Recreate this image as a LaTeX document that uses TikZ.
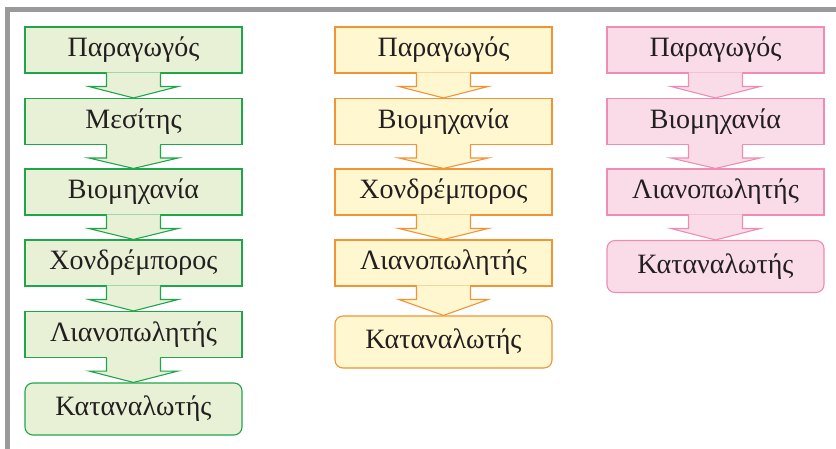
\documentclass[tikz,border=0pt]{standalone}
\usepackage{fontspec}
\setmainfont{Liberation Serif}
\usetikzlibrary{calc}
\definecolor{frameg}{HTML}{9A9A9C}
\definecolor{txt}{HTML}{231F20}
\definecolor{gline}{HTML}{1FA64C}
\definecolor{gfill}{HTML}{E8F1D5}
\definecolor{oline}{HTML}{F29335}
\definecolor{ofill}{HTML}{FFF7D0}
\definecolor{pline}{HTML}{EF8CB6}
\definecolor{pfill}{HTML}{FADCE8}
\newcommand{\flowarr}[4]{%
  \fill[#4] ($(#1.south)+(-26.6,-1.2)$) -- ($(#1.south)+(-26.6,13)$) -- ($(#1.south)+(-44.5,13)$)
     -- (#2.north) -- ($(#1.south)+(44.5,13)$) -- ($(#1.south)+(26.6,13)$) -- ($(#1.south)+(26.6,-1.2)$) -- cycle;
  \draw[#3, line width=1.1pt, line join=miter] ($(#1.south)+(-27,0)$) -- ($(#1.south)+(-27,13)$) -- ($(#1.south)+(-44.5,13)$)
     -- (#2.north) -- ($(#1.south)+(44.5,13)$) -- ($(#1.south)+(27,13)$) -- ($(#1.south)+(27,0)$);
}
\begin{document}
\begin{tikzpicture}[x=1pt,y=-1pt,
  box/.style={draw, line width=1.1pt, minimum width=217pt, minimum height=46pt, inner sep=0pt,
    text=txt, font=\fontsize{28}{32}\selectfont},
  endbox/.style={box, rounded corners=8pt, minimum height=52pt},
  gbox/.style={box, draw=gline, fill=gfill},
  obox/.style={box, draw=oline, fill=ofill},
  pbox/.style={box, draw=pline, fill=pfill}]
\useasboundingbox (0,0) rectangle (836,449);
\draw[frameg, line width=5pt] (7.5,449) -- (7.5,9.3) -- (836,9.3);
% green column
\node[gbox] (g1) at (133.5,50) {Παραγωγός};
\node[gbox] (g2) at (133.5,121.5) {Μεσίτης};
\node[gbox] (g3) at (133.5,192) {Βιομηχανία};
\node[gbox] (g4) at (133.5,263) {Χονδρέμπορος};
\node[gbox] (g5) at (133.5,334.5) {Λιανοπωλητής};
\node[gbox, endbox] (g6) at (133.5,409) {Καταναλωτής};
% orange column
\node[obox] (o1) at (443.5,50) {Παραγωγός};
\node[obox] (o2) at (443.5,121.5) {Βιομηχανία};
\node[obox] (o3) at (443.5,192) {Χονδρέμπορος};
\node[obox] (o4) at (443.5,263) {Λιανοπωλητής};
\node[obox, endbox] (o5) at (443.5,342) {Καταναλωτής};
% pink column
\node[pbox] (p1) at (715.5,50) {Παραγωγός};
\node[pbox] (p2) at (715.5,121.5) {Βιομηχανία};
\node[pbox] (p3) at (715.5,192) {Λιανοπωλητής};
\node[pbox, endbox] (p4) at (715.5,266.5) {Καταναλωτής};
\flowarr{g1}{g2}{gline}{gfill}
\flowarr{g2}{g3}{gline}{gfill}
\flowarr{g3}{g4}{gline}{gfill}
\flowarr{g4}{g5}{gline}{gfill}
\flowarr{g5}{g6}{gline}{gfill}
\flowarr{o1}{o2}{oline}{ofill}
\flowarr{o2}{o3}{oline}{ofill}
\flowarr{o3}{o4}{oline}{ofill}
\flowarr{o4}{o5}{oline}{ofill}
\flowarr{p1}{p2}{pline}{pfill}
\flowarr{p2}{p3}{pline}{pfill}
\flowarr{p3}{p4}{pline}{pfill}
\end{tikzpicture}
\end{document}
